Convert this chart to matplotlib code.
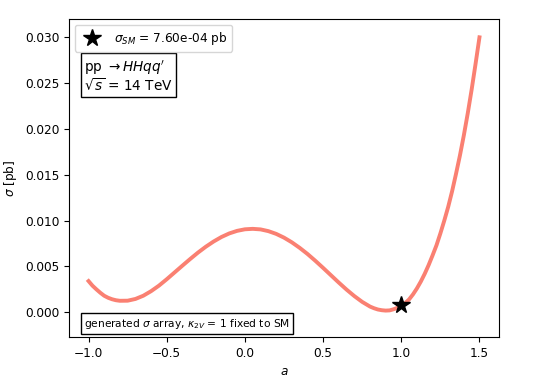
import numpy as np
import matplotlib
matplotlib.use("Agg")
import matplotlib.pyplot as plt

# valores
a_vals = [-1.000, -0.975, -0.950, -0.925, -0.900, -0.875, -0.850, -0.825, -0.800, -0.750,
          -0.700, -0.650, -0.600, -0.550, -0.500, -0.450, -0.400, -0.350, -0.300, -0.250,
          -0.200, -0.150, -0.100, -0.050, 0.000, 0.050, 0.100, 0.150, 0.200, 0.250,
          0.300, 0.350, 0.400, 0.450, 0.500, 0.550, 0.600, 0.650, 0.700, 0.750,
          0.800, 0.825, 0.850, 0.875, 0.900, 0.925, 0.950, 0.975, 1.000, 1.025,
          1.050, 1.075, 1.100, 1.125, 1.150, 1.175, 1.200, 1.225, 1.250, 1.275,
          1.300, 1.325, 1.350, 1.375, 1.400, 1.425, 1.450, 1.475, 1.500]
sigma_vals = [0.00340, 0.00290, 0.00250, 0.00213, 0.00180, 0.00158, 0.00142, 0.00131, 0.00125, 0.00126,
              0.00145, 0.00180, 0.00230, 0.00290, 0.00360, 0.00434, 0.00508, 0.00581, 0.00651, 0.00715,
              0.00772, 0.00821, 0.00860, 0.00888, 0.00905, 0.00910, 0.00904, 0.00885, 0.00855, 0.00814,
              0.00763, 0.00703, 0.00636, 0.00562, 0.00484, 0.00404, 0.00324, 0.00247, 0.00176, 0.00113,
              0.00062, 0.00044, 0.00030, 0.00022, 0.00018, 0.00020, 0.00032, 0.00048, 0.00070, 0.00100,
              0.00140, 0.00195, 0.00260, 0.00335, 0.00420, 0.00515, 0.00620, 0.00730, 0.00860, 0.01000,
              0.01150, 0.01320, 0.01510, 0.01710, 0.01930, 0.02170, 0.02430, 0.02710, 0.03000]

a_sm = 1.0
sigma_sm = 7.60e-04

fig = plt.figure(figsize=(5.56, 3.86), dpi=100)
ax = fig.add_axes([0.1241, 0.127, 0.7734, 0.8238])

ax.plot(a_vals, sigma_vals, color='salmon', linewidth=2.8)
ax.plot([a_sm], [sigma_sm], marker='*', color='black', markersize=13, linestyle='none',
        label=r'$\sigma_{SM}$ = %.2e pb' % sigma_sm)

ax.set_xlim(-1.125, 1.625)
ax.set_ylim(-0.0027, 0.0320)
ax.set_xticks([-1.0, -0.5, 0.0, 0.5, 1.0, 1.5])
ax.set_yticks([0.000, 0.005, 0.010, 0.015, 0.020, 0.025, 0.030])
ax.tick_params(labelsize=8.7)

ax.set_xlabel(r'$a$', fontsize=8.7)
ax.set_ylabel(r'$\sigma$ [pb]', fontsize=8.7)

ax.legend(loc='upper left', fontsize=8.7)

ax.text(0.035, 0.875, "pp $\\rightarrow HHqq'$\n$\\sqrt{s}$ = 14 TeV", transform=ax.transAxes,
        fontsize=9.8, va='top', ha='left', linespacing=1.0,
        bbox=dict(boxstyle='square,pad=0.25', facecolor='white', edgecolor='black'))

ax.text(0.035, 0.02, r'generated $\sigma$ array, $\kappa_{2V}$ = 1 fixed to SM', transform=ax.transAxes,
        fontsize=7.7, va='bottom', ha='left',
        bbox=dict(boxstyle='square,pad=0.3', facecolor='white', edgecolor='black'))

fig.savefig('out.png', dpi=100)
